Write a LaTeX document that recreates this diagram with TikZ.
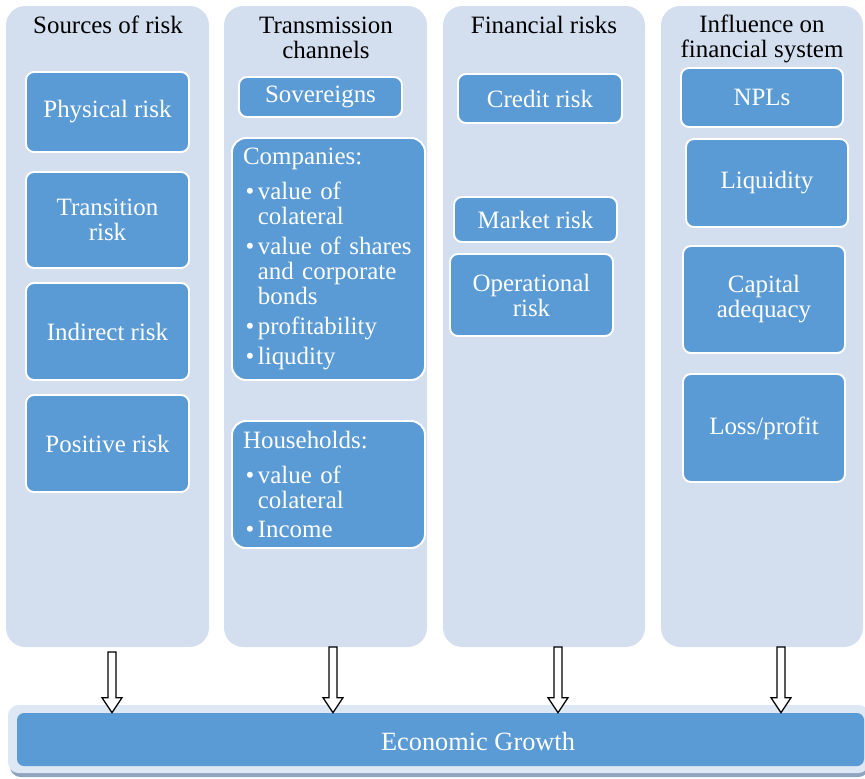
\documentclass[tikz,border=0pt]{standalone}
\usepackage{fontspec}
\setmainfont{Liberation Serif}
\usepackage{tikz}
\usetikzlibrary{calc}
\definecolor{colbg}{HTML}{D3DEEF}
\definecolor{boxbg}{HTML}{5B9BD5}
\definecolor{barbg}{HTML}{DEE8F5}
\definecolor{barshadow}{HTML}{8EA4BF}
\definecolor{ink}{HTML}{000000}
\newcommand{\bul}{\hspace{1.5pt}\textbullet\hspace{2pt}}
\newcommand{\bulgap}{\phantom{\bul}}
\tikzset{
  sz/.style 2 args={minimum width=#1*0.02cm, minimum height=#2*0.02cm},
  column/.style={fill=colbg, rounded corners=11pt, inner sep=0pt},
  head/.style={text=ink, align=center, font=\fontsize{14.2}{14.2}\selectfont},
  rbox/.style={fill=boxbg, draw=white, line width=1.1pt, rounded corners=4.5pt, inner sep=0pt,
    text=white, align=center, font=\fontsize{14.2}{14.2}\selectfont},
  lbox/.style={rbox, rounded corners=8pt, align=left, text width=3.42cm},
  barouter/.style={fill=barbg, rounded corners=6pt, inner sep=0pt},
  barinner/.style={fill=boxbg, rounded corners=4pt, inner sep=0pt},
  bartext/.style={text=white, font=\fontsize{15}{15}\selectfont},
  hollow/.style={draw=ink, fill=white, line width=0.7pt, line join=miter},
}

\begin{document}
\begin{tikzpicture}[x=0.02cm, y=-0.02cm]
  \useasboundingbox (0,0) rectangle (865,778);
  % columns
  \node[column, sz={203}{641}] (src) at (107.5,326.5) {};
  \node[column, sz={203}{641}] (trans) at (325.5,326.5) {};
  \node[column, sz={202}{641}] (fin) at (544,326.5) {};
  \node[column, sz={202}{641}] (infl) at (762,326.5) {};
  \node[head] (srch) at (108,25) {Sources of risk};
  \node[head] (transh) at (326,38) {Transmission\\channels};
  \node[head] (finh) at (544,25) {Financial risks};
  \node[head] (inflh) at (762,39) {Influence on\\financial system};
  % sources
  \node[rbox, sz={163}{80}] (phys) at (107.5,112) {Physical risk};
  \node[rbox, sz={163}{96}] (transr) at (107.5,220) {Transition\\risk};
  \node[rbox, sz={163}{97}] (indir) at (107.5,331.5) {Indirect risk};
  \node[rbox, sz={163}{97}] (pos) at (107.5,443.5) {Positive risk};
  % channels
  \node[rbox, sz={163}{40}] (sov) at (320.5,97) {Sovereigns};
  \node[lbox, sz={193}{242}] (comp) at (328.5,259) {Companies:\\[5.7pt]
    \bul value of\\ \bulgap colateral\\[2.8pt]
    \bul value of shares\\ \bulgap and corporate\\ \bulgap bonds\\[2.8pt]
    \bul profitability\\[2.8pt]
    \bul liqudity};
  \node[lbox, sz={193}{127}] (house) at (328.5,484.5) {Households:\\[5.7pt]
    \bul value of\\ \bulgap colateral\\[2.8pt]
    \bul Income};
  % financial risks
  \node[rbox, sz={164}{49}] (cred) at (540,98.5) {Credit risk};
  \node[rbox, sz={163}{45}] (mark) at (535.5,219.5) {Market risk};
  \node[rbox, sz={163}{82}] (oper) at (531.5,295) {Operational\\risk};
  % influence
  \node[rbox, sz={162}{59}] (npl) at (762,97.5) {NPLs};
  \node[rbox, sz={162}{88}] (liq) at (767,183) {Liquidity};
  \node[rbox, sz={162}{107}] (capad) at (764,299.5) {Capital\\adequacy};
  \node[rbox, sz={162}{108}] (loss) at (764,428) {Loss/profit};
  % growth bar
  \fill[barshadow, rounded corners=6pt] (10,712) rectangle (869,777);
  \node[barouter, sz={861}{68}] (growbg) at (438.5,739) {};
  \node[barinner, sz={847}{53}] (grow) at (440.5,739.5) {};
  \node[bartext] (growtxt) at (478,741) {Economic Growth};
  % arrows
  \coordinate (a1) at (112,652);
  \coordinate (a2) at (333,647);
  \coordinate (a3) at (558,647);
  \coordinate (a4) at (781,647);
  \coordinate (t1) at (a1 |- grow.north);
  \coordinate (t2) at (a2 |- grow.north);
  \coordinate (t3) at (a3 |- grow.north);
  \coordinate (t4) at (a4 |- grow.north);
  \draw[hollow] ($(a1)+(-4,0)$) |- ($(t1)+(-10,-15)$) -- (t1) -- ($(t1)+(10,-15)$) -| ($(a1)+(4,0)$) -- cycle;
  \draw[hollow] ($(a2)+(-4,0)$) |- ($(t2)+(-10,-15)$) -- (t2) -- ($(t2)+(10,-15)$) -| ($(a2)+(4,0)$) -- cycle;
  \draw[hollow] ($(a3)+(-4,0)$) |- ($(t3)+(-10,-15)$) -- (t3) -- ($(t3)+(10,-15)$) -| ($(a3)+(4,0)$) -- cycle;
  \draw[hollow] ($(a4)+(-4,0)$) |- ($(t4)+(-10,-15)$) -- (t4) -- ($(t4)+(10,-15)$) -| ($(a4)+(4,0)$) -- cycle;
\end{tikzpicture}
\end{document}
